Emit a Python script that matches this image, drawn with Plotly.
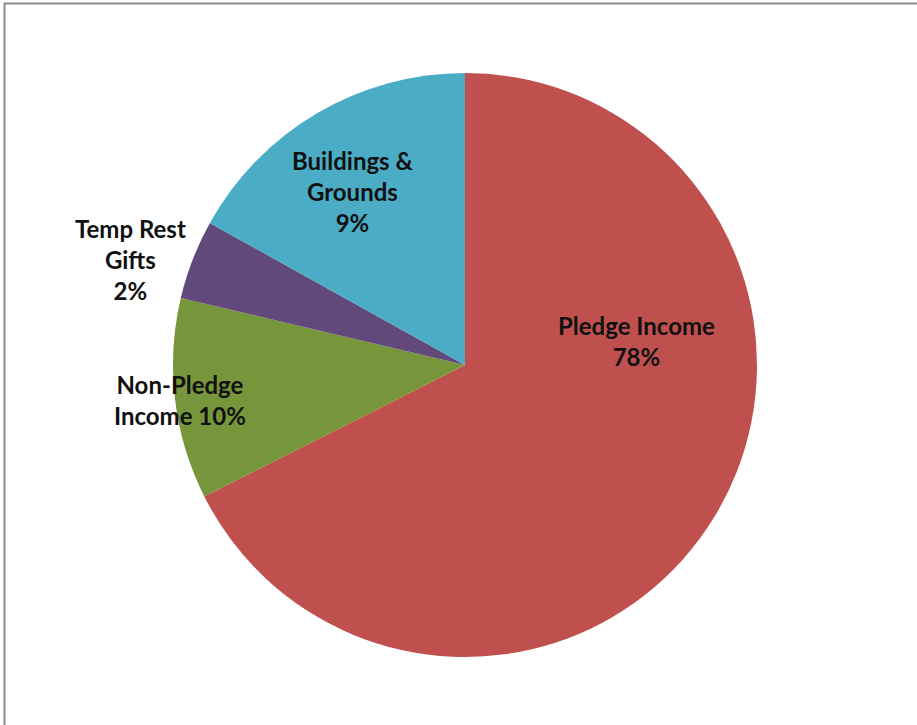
import plotly.graph_objects as go

# Data
categories = ["Pledge Income", "Non-Pledge Income", "Temp Rest Gifts", "Buildings & Grounds"]
slice_values = [67.5, 11.1, 4.4, 16.9]          # geometric slice sizes as drawn
label_percents = ["78%", "10%", "2%", "9%"]       # percentages printed on the labels
label_lines = [
    "Pledge Income<br>78%",
    "Non-Pledge<br>Income 10%",
    "Temp Rest<br>Gifts<br>2%",
    "Buildings &<br>Grounds<br>9%",
]
colors = ["#C0504D", "#77963C", "#62497B", "#4BACC6"]

W, H = 917, 725
cx, cy, r = 465, 365, 292

fig = go.Figure(go.Pie(
    labels=categories,
    values=slice_values,
    sort=False,
    direction="clockwise",
    rotation=0,
    marker=dict(colors=colors, line=dict(width=0)),
    textinfo="none",
    hoverinfo="label+percent",
    showlegend=False,
    domain=dict(x=[(cx - r) / W, (cx + r) / W], y=[1 - (cy + r) / H, 1 - (cy - r) / H]),
))

# label anchor positions (pixels)
label_pos = [(636, 341), (180, 400), (130, 259), (352, 192)]
for txt, (px, py) in zip(label_lines, label_pos):
    fig.add_annotation(
        x=px / W, y=1 - py / H, xref="paper", yref="paper",
        text=txt, showarrow=False, align="center",
        xanchor="center", yanchor="middle",
        font=dict(family="Lato, 'Open Sans', sans-serif", size=24, color="#111111", weight="bold"),
    )

fig.add_shape(type="rect", xref="paper", yref="paper",
              x0=4.5 / W, x1=1.05, y0=-0.05, y1=1 - 3.5 / H,
              line=dict(color="#8c8c8c", width=2), fillcolor="rgba(0,0,0,0)")

fig.update_layout(
    width=W, height=H,
    margin=dict(l=0, r=0, t=0, b=0),
    paper_bgcolor="white", plot_bgcolor="white",
)

fig.write_html("out.html", config={"displayModeBar": False},
               post_script="document.body.style.margin='0';document.body.style.padding='0';")
